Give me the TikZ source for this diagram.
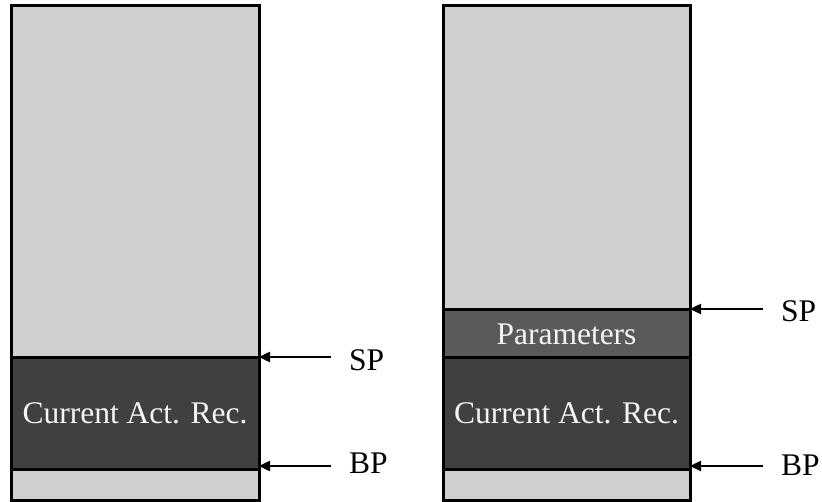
\documentclass[tikz,border=0pt]{standalone}
\usepackage{fontspec}
\setmainfont{Liberation Serif}
\usetikzlibrary{arrows.meta}
\definecolor{lightg}{RGB}{208,208,208}
\definecolor{darkg}{RGB}{64,64,64}
\definecolor{paramg}{RGB}{90,90,90}
\definecolor{txtw}{RGB}{245,245,245}
\tikzset{
  cell/.style={draw=black, line width=3pt, inner sep=0pt, outer sep=0pt, anchor=north west},
  lbl/.style={inner sep=0pt, anchor=base west, font=\fontsize{31.5}{38}\selectfont},
  celltext/.style={inner sep=0pt, text=txtw, font=\fontsize{31.5}{38}\selectfont},
  ptr/.style={line width=2.4pt, -{Triangle[length=11pt,width=10pt]}}
}
\begin{document}
\begin{tikzpicture}[x=1pt,y=-1pt]
\useasboundingbox (0,0) rectangle (822,502);
% left stack
\node[cell, fill=lightg, minimum width=248pt, minimum height=494pt] (L) at (11,6) {};
\node[cell, fill=darkg, minimum width=248pt, minimum height=111pt] (Lcar) at (11,358) {};
\node[celltext] (LcarT) at (Lcar.center) {Current Act. Rec.};
% right stack
\node[cell, fill=lightg, minimum width=247pt, minimum height=494pt] (R) at (443,6) {};
\node[cell, fill=paramg, minimum width=247pt, minimum height=48pt] (Rpar) at (443,310) {};
\node[cell, fill=darkg, minimum width=247pt, minimum height=111pt] (Rcar) at (443,358) {};
\node[celltext] (RparT) at (Rpar.center) {Parameters};
\node[celltext] (RcarT) at (Rcar.center) {Current Act. Rec.};
% pointer tails
\coordinate (LspTail) at (331,357);
\coordinate (LbpTail) at (331,466);
\coordinate (RspTail) at (763,309);
\coordinate (RbpTail) at (763,466);
\draw[ptr] (LspTail) -- (LspTail -| L.east);
\draw[ptr] (LbpTail) -- (LbpTail -| L.east);
\draw[ptr] (RspTail) -- (RspTail -| R.east);
\draw[ptr] (RbpTail) -- (RbpTail -| R.east);
% labels
\node[lbl] (LspL) at (349,371) {SP};
\node[lbl] (LbpL) at (349,473) {BP};
\node[lbl] (RspL) at (781,322) {SP};
\node[lbl] (RbpL) at (781,475) {BP};
\end{tikzpicture}
\end{document}
